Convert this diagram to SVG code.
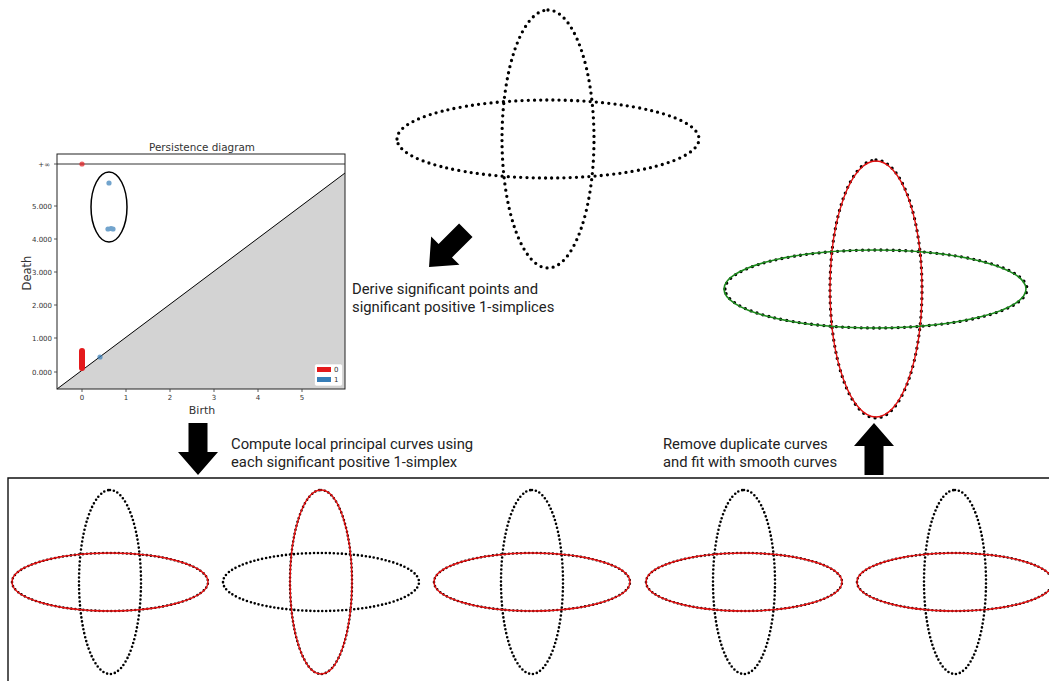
<svg xmlns="http://www.w3.org/2000/svg" xmlns:xlink="http://www.w3.org/1999/xlink" width="1049" height="681" viewBox="0 0 1049 681">
<style>
.dots{fill:none;stroke:#000;stroke-linecap:round}
.t{stroke-width:3.3;stroke-dasharray:0 6.2}
.b{stroke-width:2.6;stroke-dasharray:0 4}
.ann{font-family:Roboto,"Liberation Sans",sans-serif;font-size:14.8px;fill:#222}
.mpl{font-family:"DejaVu Sans",sans-serif;fill:#333}
.tick{font-family:"DejaVu Sans",sans-serif;font-size:7px;fill:#333}
.red{fill:none;stroke:#e41010;stroke-width:1.4}
.green{fill:none;stroke:#1c8a1c;stroke-width:1.6}
.arrow{fill:#000}
</style>
<defs>
<polygon id="arr" points="-9.5,0 9.5,0 9.5,29 20,29 0,52 -20,29 -9.5,29"/>
<g id="tcloud">
<path class="dots t" d="M0,-129A46,129 0 1,1 0,129A46,129 0 1,1 0,-129"/>
<path class="dots t" d="M-151,0A151,39 0 1,1 151,0A151,39 0 1,1 -151,0"/>
</g>
<g id="bcloud">
<path class="dots b" d="M0,-92A31,92 0 1,1 0,92A31,92 0 1,1 0,-92"/>
<path class="dots b" d="M-98,0A98,29 0 1,1 98,0A98,29 0 1,1 -98,0"/>
</g>
<path id="bH" d="M-98,0A98,29 0 1,1 98,0A98,29 0 1,1 -98,0"/>
<path id="bV" d="M0,-92A31,92 0 1,1 0,92A31,92 0 1,1 0,-92"/>
</defs>

<g id="persistence-diagram">
<polygon points="57,389 345,173 345,389" fill="#d3d3d3"/>
<line x1="57" y1="389" x2="345" y2="173" stroke="#000" stroke-width="1"/>
<line x1="57" y1="164" x2="345" y2="164" stroke="#000" stroke-width="0.8"/>
<rect x="57" y="154" width="288" height="235" fill="none" stroke="#222" stroke-width="1"/>
<g stroke="#333" stroke-width="0.8">
<line x1="82" y1="389" x2="82" y2="392"/><line x1="126" y1="389" x2="126" y2="392"/><line x1="170" y1="389" x2="170" y2="392"/><line x1="214" y1="389" x2="214" y2="392"/><line x1="258" y1="389" x2="258" y2="392"/><line x1="302" y1="389" x2="302" y2="392"/>
<line x1="54" y1="372" x2="57" y2="372"/><line x1="54" y1="338" x2="57" y2="338"/><line x1="54" y1="305" x2="57" y2="305"/><line x1="54" y1="272" x2="57" y2="272"/><line x1="54" y1="239" x2="57" y2="239"/><line x1="54" y1="206" x2="57" y2="206"/><line x1="54" y1="164" x2="57" y2="164"/>
</g>
<g class="tick" text-anchor="middle">
<text x="82" y="400">0</text><text x="126" y="400">1</text><text x="170" y="400">2</text><text x="214" y="400">3</text><text x="258" y="400">4</text><text x="302" y="400">5</text>
</g>
<g class="tick" text-anchor="end">
<text x="52" y="374.5">0.000</text><text x="52" y="340.5">1.000</text><text x="52" y="307.5">2.000</text><text x="52" y="274.5">3.000</text><text x="52" y="241.5">4.000</text><text x="52" y="208.5">5.000</text><text x="50" y="166.5">+∞</text>
</g>
<text class="mpl" x="202" y="150.5" font-size="10.4" text-anchor="middle">Persistence diagram</text>
<text class="mpl" x="202" y="413.5" font-size="11" text-anchor="middle" fill="#111">Birth</text>
<text class="mpl" transform="translate(31,273) rotate(-90)" font-size="11.5" text-anchor="middle" fill="#111">Death</text>
<circle cx="82" cy="164" r="2.6" fill="#e41a1c" opacity="0.7"/>
<rect x="79" y="348" width="6" height="23" rx="3" fill="#e41a1c"/>
<g fill="#377eb8" opacity="0.7">
<circle cx="109" cy="183" r="2.6"/>
<circle cx="108" cy="229" r="2.6"/><circle cx="111" cy="228.5" r="2.6"/><circle cx="113" cy="229" r="2.6"/>
<circle cx="100" cy="357" r="2.6"/>
</g>
<ellipse cx="109" cy="207" rx="18" ry="35" fill="none" stroke="#000" stroke-width="1.5"/>
<rect x="314.5" y="364" width="28" height="22" rx="2" fill="#fff" stroke="#ccc" stroke-width="0.6"/>
<rect x="317" y="367" width="14" height="5" fill="#e41a1c"/>
<rect x="317" y="377" width="14" height="5" fill="#377eb8"/>
<text class="tick" x="334" y="372">0</text>
<text class="tick" x="334" y="382">1</text>
</g>

<g id="input-cloud"><use xlink:href="#tcloud" transform="translate(548,139)"/></g>

<g id="result-cloud">
<use xlink:href="#tcloud" transform="translate(876,289)"/>
<path class="red" d="M876,161A46,128 0 1,1 876,417A46,128 0 1,1 876,161"/>
<path class="green" d="M724,289A151,39 0 1,1 1026,289A151,39 0 1,1 724,289"/>
</g>

<g id="curves-panel">
<path d="M8,681V478H1049" fill="none" stroke="#111" stroke-width="1.4"/>
<g transform="translate(110,582)"><use xlink:href="#bcloud"/><use xlink:href="#bH" class="red"/></g>
<g transform="translate(321,582)"><use xlink:href="#bcloud"/><use xlink:href="#bV" class="red"/></g>
<g transform="translate(532,582)"><use xlink:href="#bcloud"/><use xlink:href="#bH" class="red"/></g>
<g transform="translate(744,582)"><use xlink:href="#bcloud"/><use xlink:href="#bH" class="red"/></g>
<g transform="translate(955,582)"><use xlink:href="#bcloud"/><use xlink:href="#bH" class="red"/></g>
</g>

<g id="connectors">
<use xlink:href="#arr" class="arrow" transform="translate(465.8,230.2) rotate(45)"/>
<use xlink:href="#arr" class="arrow" transform="translate(198,423)"/>
<use xlink:href="#arr" class="arrow" transform="translate(874,475) rotate(180)"/>
</g>

<g id="labels">
<text class="ann" x="352" y="294">Derive significant points and</text>
<text class="ann" x="352" y="312">significant positive 1-simplices</text>
<text class="ann" x="231" y="449">Compute local principal curves using</text>
<text class="ann" x="231" y="467">each significant positive 1-simplex</text>
<text class="ann" x="663" y="449">Remove duplicate curves</text>
<text class="ann" x="663" y="467">and fit with smooth curves</text>
</g>
</svg>
